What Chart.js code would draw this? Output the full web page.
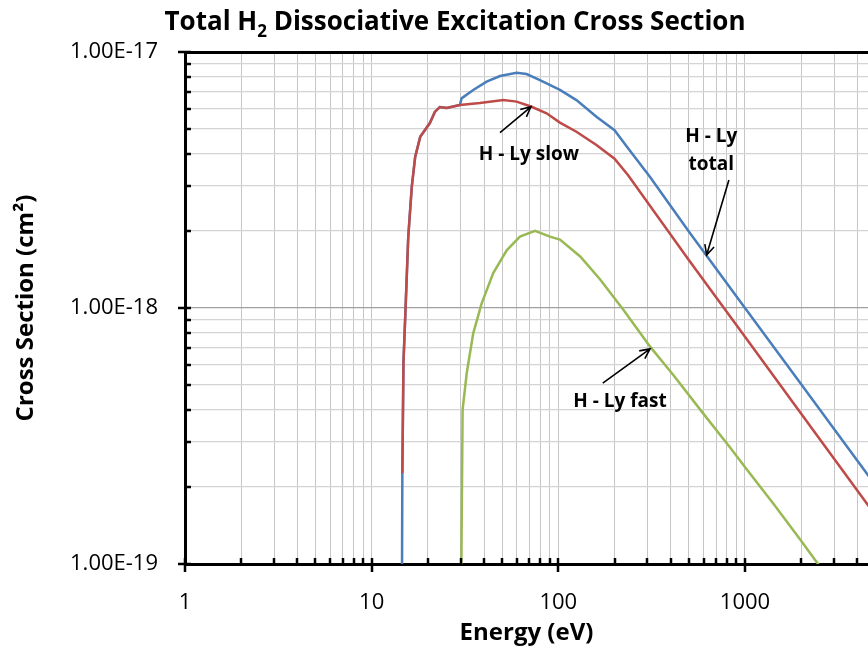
<!DOCTYPE html>
<html>
<head>
<meta charset="utf-8">
<script src="https://cdn.jsdelivr.net/npm/chart.js@4.4.1/dist/chart.umd.min.js"></script>
<style>
  body { margin: 0; background: #fff; }
</style>
</head>
<body>
<canvas id="xs-chart" width="868" height="652"></canvas>
<script>
// Energia (eV) e secao de choque (cm2)
const slowE = [14.6, 14.8, 15.2, 15.7, 16.4, 17.1, 18.2, 19.3, 20.5, 21.8, 23.2, 25.2, 29.7, 38, 50.7, 59.8, 71.9, 86.5, 102, 125, 160, 200, 236, 500, 1000, 2000, 5000];
const slowS = [2.26e-19, 6.1e-19, 1.01e-18, 1.89e-18, 2.97e-18, 3.89e-18, 4.66e-18, 4.96e-18, 5.28e-18, 5.83e-18, 6.1e-18, 6.05e-18, 6.21e-18, 6.32e-18, 6.49e-18, 6.4e-18, 6.11e-18, 5.76e-18, 5.3e-18, 4.88e-18, 4.33e-18, 3.83e-18, 3.31e-18, 1.54e-18, 7.72e-19, 3.86e-19, 1.55e-19];

const totalE = [14.5, 14.6, 14.8, 15.2, 15.7, 16.4, 17.1, 18.2, 19.3, 20.5, 21.8, 23.2, 25.2, 29.7, 30.3, 35, 41.3, 48.7, 59.8, 67.6, 79.7, 102, 125, 160, 200, 232, 310, 500, 1000, 2000, 5000];
const totalS = [5e-20, 2.26e-19, 6.1e-19, 1.01e-18, 1.89e-18, 2.97e-18, 3.89e-18, 4.66e-18, 4.96e-18, 5.28e-18, 5.83e-18, 6.1e-18, 6.05e-18, 6.21e-18, 6.59e-18, 7.11e-18, 7.66e-18, 8.06e-18, 8.3e-18, 8.2e-18, 7.77e-18, 7.11e-18, 6.49e-18, 5.59e-18, 4.95e-18, 4.28e-18, 3.25e-18, 1.99e-18, 1.0e-18, 5.04e-19, 2.03e-19];

const fastE = [30, 30.7, 32.3, 35, 38.8, 44.8, 52.9, 62.3, 75, 90.2, 102, 131, 168, 224, 311, 415, 601, 836, 1028, 1427, 1984, 2487, 5000];
const fastS = [5e-20, 4.0e-19, 5.56e-19, 7.96e-19, 1.04e-18, 1.37e-18, 1.68e-18, 1.9e-18, 2.0e-18, 1.9e-18, 1.85e-18, 1.59e-18, 1.29e-18, 9.8e-19, 7.05e-19, 5.45e-19, 3.85e-19, 2.84e-19, 2.33e-19, 1.71e-19, 1.24e-19, 9.9e-20, 4.9e-20];

// Marcas dos eixos (decadas e subdivisoes)
const xTicks = [1, 2, 3, 4, 5, 6, 7, 8, 9, 10, 20, 30, 40, 50, 60, 70, 80, 90, 100, 200, 300, 400, 500, 600, 700, 800, 900, 1000, 2000, 3000, 4000];
const yTicks = [1e-19, 2e-19, 3e-19, 4e-19, 5e-19, 6e-19, 7e-19, 8e-19, 9e-19, 1e-18, 2e-18, 3e-18, 4e-18, 5e-18, 6e-18, 7e-18, 8e-18, 9e-18, 1e-17];

// Rotulos com setas: [energia, secao]
const notes = [
    { text: ['H - Ly slow'], at: [69.6, 3.96e-18], from: [48.7, 4.84e-18], to: [71.3, 6.11e-18] },
    { text: ['H - Ly', 'total'], at: [660, 4.11e-18], from: [820, 3.16e-18], to: [623, 1.61e-18] },
    { text: ['H - Ly fast'], at: [214, 4.31e-19], from: [173, 5.09e-19], to: [310, 6.92e-19] }
];

const FONT = "'Open Sans', 'DejaVu Sans', sans-serif";

function pontos(es, ss) {
    return es.map((e, i) => ({ x: e, y: ss[i] }));
}

function isDecade(v) {
    const l = Math.log10(v);
    return Math.abs(l - Math.round(l)) < 1e-6;
}

// Titulo com subscrito, marcas dos eixos e anotacoes
const extras = {
    id: 'extras',
    afterDraw(chart) {
        const ctx = chart.ctx;
        const area = chart.chartArea;
        const xs = chart.scales.x;
        const ys = chart.scales.y;
        ctx.save();

        // titulo
        const big = 'bold 26px ' + FONT;
        const small = 'bold 17px ' + FONT;
        const parts = [['Total H', big, 0], ['2', small, 7], [' Dissociative Excitation Cross Section', big, 0]];
        let w = 0;
        parts.forEach(p => { ctx.font = p[1]; w += ctx.measureText(p[0]).width; });
        let tx = 455 - w / 2;
        ctx.fillStyle = '#000';
        ctx.textBaseline = 'alphabetic';
        ctx.textAlign = 'left';
        parts.forEach(p => {
            ctx.font = p[1];
            ctx.fillText(p[0], tx, 30 + p[2]);
            tx += ctx.measureText(p[0]).width;
        });

        // marcas
        ctx.strokeStyle = '#000';
        ctx.lineWidth = 2.5;
        ctx.beginPath();
        xTicks.forEach(v => {
            const px = Math.round(xs.getPixelForValue(v));
            if (isDecade(v)) {
                ctx.moveTo(px, area.bottom - 6);
                ctx.lineTo(px, area.bottom + 8);
            } else {
                ctx.moveTo(px, area.bottom - 6);
                ctx.lineTo(px, area.bottom);
            }
        });
        yTicks.forEach(v => {
            const py = Math.round(ys.getPixelForValue(v));
            if (isDecade(v)) {
                ctx.moveTo(area.left - 7, py);
                ctx.lineTo(area.left + 6, py);
            } else {
                ctx.moveTo(area.left, py);
                ctx.lineTo(area.left + 6, py);
            }
        });
        ctx.stroke();

        // anotacoes
        ctx.font = 'bold 19px ' + FONT;
        ctx.textAlign = 'center';
        ctx.textBaseline = 'middle';
        ctx.lineWidth = 1.6;
        notes.forEach(n => {
            const cx = xs.getPixelForValue(n.at[0]);
            const cy = ys.getPixelForValue(n.at[1]);
            const lh = 28;
            n.text.forEach((t, i) => {
                ctx.fillText(t, cx, cy + (i - (n.text.length - 1) / 2) * lh);
            });
            const x1 = xs.getPixelForValue(n.from[0]);
            const y1 = ys.getPixelForValue(n.from[1]);
            const x2 = xs.getPixelForValue(n.to[0]);
            const y2 = ys.getPixelForValue(n.to[1]);
            const ang = Math.atan2(y2 - y1, x2 - x1);
            ctx.beginPath();
            ctx.moveTo(x1, y1);
            ctx.lineTo(x2, y2);
            ctx.moveTo(x2 - 11 * Math.cos(ang - 0.45), y2 - 11 * Math.sin(ang - 0.45));
            ctx.lineTo(x2, y2);
            ctx.lineTo(x2 - 11 * Math.cos(ang + 0.45), y2 - 11 * Math.sin(ang + 0.45));
            ctx.stroke();
        });
        ctx.restore();
    }
};

const ctx = document.getElementById('xs-chart').getContext('2d');
const chart = new Chart(ctx, {
    type: 'scatter',
    data: {
        datasets: [
            { label: 'H - Ly slow', data: pontos(slowE, slowS), borderColor: '#be4b48', backgroundColor: '#be4b48' },
            { label: 'H - Ly total', data: pontos(totalE, totalS), borderColor: '#4a7ebb', backgroundColor: '#4a7ebb' },
            { label: 'H - Ly fast', data: pontos(fastE, fastS), borderColor: '#98b954', backgroundColor: '#98b954' }
        ]
    },
    options: {
        responsive: false,
        animation: false,
        showLine: true,
        elements: {
            line: { borderWidth: 2.5, tension: 0 },
            point: { radius: 0, hoverRadius: 0 }
        },
        layout: { padding: { top: 52, left: 0, right: 0, bottom: 0 } },
        plugins: {
            legend: { display: false },
            tooltip: { enabled: false }
        },
        scales: {
            x: {
                type: 'logarithmic',
                min: 1,
                max: 4560,
                afterBuildTicks: scale => { scale.ticks = xTicks.map(v => ({ value: v })); },
                afterFit: scale => {
                    scale.height = 88;
                    scale.paddingLeft = 0;
                    scale.paddingRight = 0;
                },
                ticks: {
                    autoSkip: false,
                    maxRotation: 0,
                    padding: 26,
                    color: '#000',
                    font: { family: FONT, size: 22 },
                    callback: v => isDecade(v) ? String(Math.round(v)) : ''
                },
                grid: { drawTicks: false, color: '#c6c6c6', lineWidth: 1 },
                border: { color: '#000', width: 3 },
                title: {
                    display: true,
                    text: 'Energy (eV)',
                    color: '#000',
                    font: { family: FONT, size: 24, weight: 'bold' },
                    padding: { top: 0, bottom: 4 }
                }
            },
            y: {
                type: 'logarithmic',
                min: 1e-19,
                max: 1e-17,
                afterBuildTicks: scale => { scale.ticks = yTicks.map(v => ({ value: v })); },
                afterFit: scale => { scale.width = 185; },
                ticks: {
                    autoSkip: false,
                    padding: 27,
                    color: '#000',
                    font: { family: FONT, size: 22 },
                    callback: v => isDecade(v) ? v.toExponential(2).toUpperCase() : ''
                },
                grid: {
                    drawTicks: false,
                    color: c => {
                        const v = c.tick ? c.tick.value : 0;
                        if (Math.abs(v - 1e-17) < 1e-22) return '#000';
                        return isDecade(v) ? '#a0a0a0' : '#d4d4d4';
                    },
                    lineWidth: c => (c.tick && Math.abs(c.tick.value - 1e-17) < 1e-22) ? 3 : 1.2
                },
                border: { color: '#000', width: 3 },
                title: {
                    display: true,
                    text: 'Cross Section (cm²)',
                    color: '#000',
                    font: { family: FONT, size: 24, weight: 'bold' },
                    padding: { top: 12, bottom: 0 }
                }
            }
        }
    },
    plugins: [extras]
});
</script>
</body>
</html>
